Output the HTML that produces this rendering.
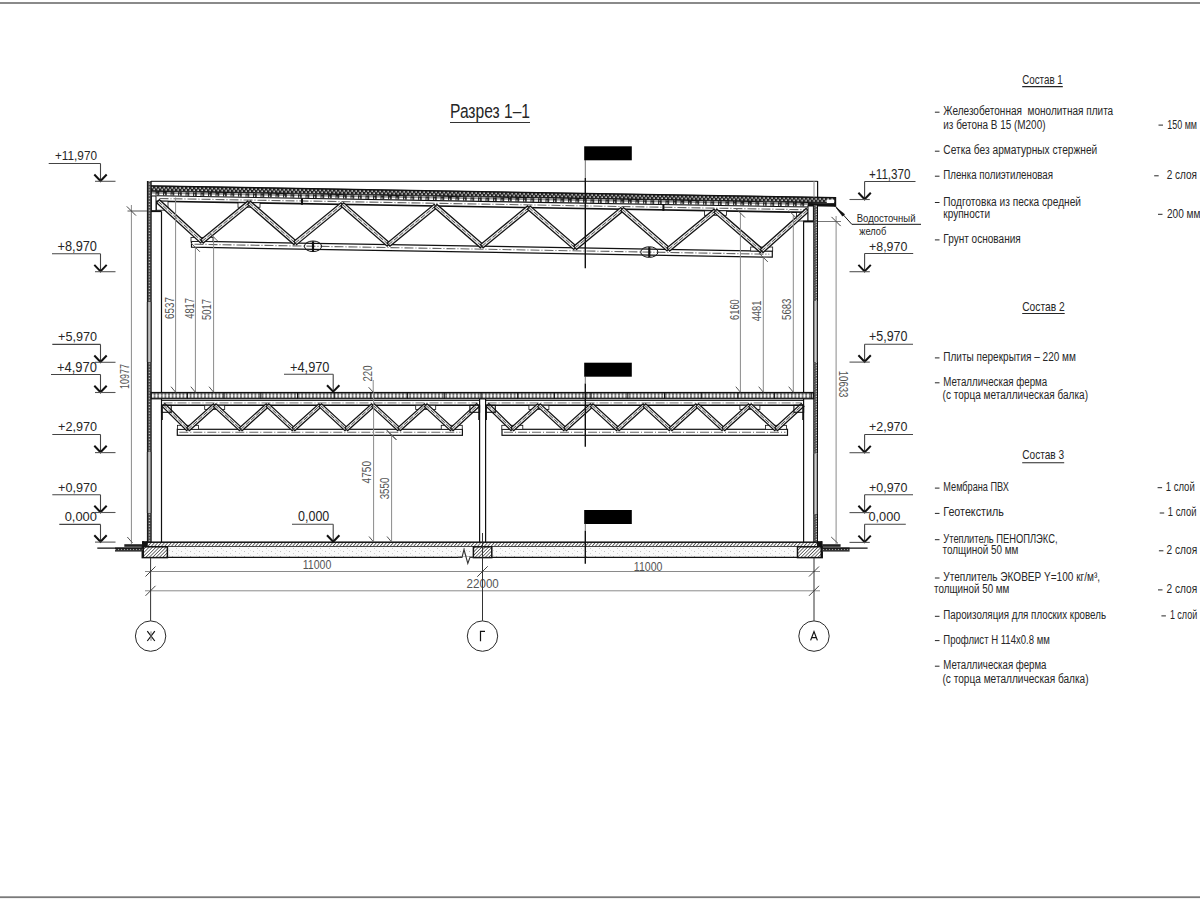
<!DOCTYPE html>
<html><head><meta charset="utf-8"><title>Разрез 1-1</title>
<style>
html,body{margin:0;padding:0;background:#fff;}
body{width:1200px;height:900px;overflow:hidden;}
svg{display:block;}
text{font-family:"Liberation Sans",sans-serif;}
</style></head><body>
<svg width="1200" height="900" viewBox="0 0 1200 900">

<defs>
<pattern id="roofins" width="4" height="5.6" patternUnits="userSpaceOnUse">
  <rect width="4" height="5.6" fill="#222"/><rect x="0.4" y="1.2" width="1.6" height="1.5" fill="#ddd"/><rect x="2.4" y="3.2" width="1.6" height="1.5" fill="#ddd"/>
</pattern>
<pattern id="dashband" width="7.5" height="3.6" patternUnits="userSpaceOnUse">
  <rect width="7.5" height="3.6" fill="#111"/><rect x="0.8" y="0.4" width="4" height="2.8" fill="#fff"/><rect x="5.7" y="0.6" width="1.1" height="2.2" fill="#eee"/>
</pattern>
<pattern id="wallL" width="4.8" height="2.9" patternUnits="userSpaceOnUse" x="146.9" y="0">
  <rect width="4.8" height="2.9" fill="#474747"/><rect width="1" height="2.9" fill="#111"/><rect x="3.8" width="1" height="2.9" fill="#111"/><rect x="1.9" y="0.8" width="1.1" height="1.1" fill="#eee"/>
</pattern>
<pattern id="wallR" width="4.8" height="2.6" patternUnits="userSpaceOnUse" x="813.2" y="0">
  <rect width="4.8" height="2.6" fill="#4a4a4a"/><rect width="0.9" height="2.6" fill="#222"/><rect x="3.9" width="0.9" height="2.6" fill="#000"/><rect x="2.6" y="0.6" width="1.1" height="1.1" fill="#f0f0f0"/><rect x="1.2" y="1.6" width="1" height="0.9" fill="#888"/>
</pattern>
<pattern id="hollow" width="3.6" height="6.6" patternUnits="userSpaceOnUse" x="151" y="392.4">
  <rect width="3.6" height="6.6" fill="#555"/><ellipse cx="1.8" cy="3.3" rx="1.25" ry="2.1" fill="#f8f8f8"/>
</pattern>
<pattern id="hatch" width="2.5" height="4" patternUnits="userSpaceOnUse" patternTransform="rotate(42)">
  <rect width="2.5" height="4" fill="#fff"/><rect width="0.9" height="4" fill="#555"/>
</pattern>
<pattern id="hatch2" width="2.4" height="3" patternUnits="userSpaceOnUse" patternTransform="rotate(45)">
  <rect width="2.4" height="3" fill="#fff"/><rect width="0.8" height="3" fill="#555"/>
</pattern>
<pattern id="concrete" width="9" height="5" patternUnits="userSpaceOnUse">
  <rect width="9" height="5" fill="#fafafa"/><rect x="1" y="1" width="1" height="1" fill="#bbb"/><rect x="5" y="3" width="1" height="1" fill="#ccc"/><rect x="7" y="0" width="1" height="1" fill="#ddd"/>
</pattern>
<pattern id="blind" width="3" height="4.1" patternUnits="userSpaceOnUse" y="547.5">
  <rect width="3" height="4.1" fill="#333"/><rect x="1" y="1.5" width="1" height="1" fill="#aaa"/>
</pattern>
</defs>

<g id="draw" stroke-linecap="butt">
<g transform="translate(151,185.5) rotate(0.9854)">
<rect x="0" y="0" width="684.8" height="5.6" fill="url(#roofins)" stroke="none" stroke-width="1"/>
<line x1="0" y1="0.4" x2="684.8" y2="0.4" stroke="#111" stroke-width="1.2"/>
<rect x="0" y="5.2" width="684.8" height="1.2" fill="#111" stroke="none" stroke-width="1"/>
<rect x="0" y="6.2" width="657" height="3.6" fill="url(#dashband)" stroke="none" stroke-width="1"/>
<rect x="657" y="6.2" width="27.8" height="3.2" fill="#111" stroke="none" stroke-width="1"/>
</g>
<rect x="826.8" y="199.6" width="7.5" height="3.4" fill="#fff" stroke="none" stroke-width="1"/>
<line x1="835.3" y1="196.98" x2="835.3" y2="206.68" stroke="#111" stroke-width="1.8"/>
<line x1="151" y1="181.3" x2="817.6" y2="181.3" stroke="#111" stroke-width="1"/>
<line x1="817.6" y1="181" x2="817.6" y2="197.5" stroke="#111" stroke-width="1.2"/>
<line x1="814" y1="181" x2="814" y2="197.5" stroke="#8c8c8c" stroke-width="1"/>
<line x1="156.5" y1="195.79" x2="808.5" y2="207.01" stroke="#111" stroke-width="1.1"/>
<line x1="156.5" y1="201.19" x2="808.5" y2="212.41" stroke="#111" stroke-width="1.6"/>
<line x1="159.5" y1="198.49" x2="805.5" y2="209.71" stroke="#666" stroke-width="1.1" stroke-dasharray="9,2,1,2"/>
<polygon points="191.5,241.2 772.3,251.19 772.3,257.19 191.5,247.2" fill="#fff" stroke="#111" stroke-width="1.2"/>
<line x1="194.5" y1="244.2" x2="769.3" y2="254.19" stroke="#666" stroke-width="1.1" stroke-dasharray="9,2,1,2"/>
<rect x="238" y="202.79" width="22" height="4.5" fill="#fff" stroke="#111" stroke-width="0.8"/>
<rect x="704.4" y="210.81" width="22" height="4.5" fill="#fff" stroke="#111" stroke-width="0.8"/>
<rect x="191" y="237.38" width="22" height="4" fill="#fff" stroke="#111" stroke-width="0.8"/>
<rect x="750.68" y="247.01" width="22" height="4" fill="#fff" stroke="#111" stroke-width="0.8"/>
<rect x="156.5" y="201.19" width="11.5" height="9" fill="#fff" stroke="#111" stroke-width="0.8"/>
<rect x="796.4" y="212.4" width="11.6" height="8.6" fill="#fff" stroke="#111" stroke-width="0.8"/>
<polygon points="156.58,202.77 200.58,242.93 203.42,239.83 159.42,199.67" fill="#e8e8e8" stroke="#111" stroke-width="1.25"/>
<line x1="158" y1="201.22" x2="202" y2="241.38" stroke="#555" stroke-width="1" stroke-dasharray="5,2"/>
<polygon points="203.33,243 250.33,204.41 247.67,201.16 200.67,239.76" fill="#e8e8e8" stroke="#111" stroke-width="1.25"/>
<line x1="202" y1="241.38" x2="249" y2="202.79" stroke="#555" stroke-width="1" stroke-dasharray="5,2"/>
<polygon points="247.62,204.37 293.9,244.57 296.66,241.4 250.38,201.2" fill="#e8e8e8" stroke="#111" stroke-width="1.25"/>
<line x1="249" y1="202.79" x2="295.28" y2="242.99" stroke="#555" stroke-width="1" stroke-dasharray="5,2"/>
<polygon points="296.61,244.61 343.61,206.01 340.95,202.77 293.95,241.36" fill="#e8e8e8" stroke="#111" stroke-width="1.25"/>
<line x1="295.28" y1="242.99" x2="342.28" y2="204.39" stroke="#555" stroke-width="1" stroke-dasharray="5,2"/>
<polygon points="340.9,205.98 387.18,246.17 389.94,243 343.66,202.8" fill="#e8e8e8" stroke="#111" stroke-width="1.25"/>
<line x1="342.28" y1="204.39" x2="388.56" y2="244.59" stroke="#555" stroke-width="1" stroke-dasharray="5,2"/>
<polygon points="389.89,246.21 436.89,207.62 434.23,204.37 387.23,242.97" fill="#e8e8e8" stroke="#111" stroke-width="1.25"/>
<line x1="388.56" y1="244.59" x2="435.56" y2="205.99" stroke="#555" stroke-width="1" stroke-dasharray="5,2"/>
<polygon points="434.18,207.58 480.46,247.78 483.22,244.61 436.94,204.41" fill="#e8e8e8" stroke="#111" stroke-width="1.25"/>
<line x1="435.56" y1="205.99" x2="481.84" y2="246.19" stroke="#555" stroke-width="1" stroke-dasharray="5,2"/>
<polygon points="483.17,247.82 530.17,209.22 527.51,205.98 480.51,244.57" fill="#e8e8e8" stroke="#111" stroke-width="1.25"/>
<line x1="481.84" y1="246.19" x2="528.84" y2="207.6" stroke="#555" stroke-width="1" stroke-dasharray="5,2"/>
<polygon points="527.46,209.18 573.74,249.38 576.5,246.21 530.22,206.01" fill="#e8e8e8" stroke="#111" stroke-width="1.25"/>
<line x1="528.84" y1="207.6" x2="575.12" y2="247.8" stroke="#555" stroke-width="1" stroke-dasharray="5,2"/>
<polygon points="576.45,249.42 623.45,210.83 620.79,207.58 573.79,246.18" fill="#e8e8e8" stroke="#111" stroke-width="1.25"/>
<line x1="575.12" y1="247.8" x2="622.12" y2="209.2" stroke="#555" stroke-width="1" stroke-dasharray="5,2"/>
<polygon points="620.74,210.79 667.02,250.99 669.78,247.82 623.5,207.62" fill="#e8e8e8" stroke="#111" stroke-width="1.25"/>
<line x1="622.12" y1="209.2" x2="668.4" y2="249.4" stroke="#555" stroke-width="1" stroke-dasharray="5,2"/>
<polygon points="669.73,251.03 716.73,212.43 714.07,209.18 667.07,247.78" fill="#e8e8e8" stroke="#111" stroke-width="1.25"/>
<line x1="668.4" y1="249.4" x2="715.4" y2="210.81" stroke="#555" stroke-width="1" stroke-dasharray="5,2"/>
<polygon points="714.02,212.39 760.3,252.59 763.06,249.42 716.78,209.22" fill="#e8e8e8" stroke="#111" stroke-width="1.25"/>
<line x1="715.4" y1="210.81" x2="761.68" y2="251.01" stroke="#555" stroke-width="1" stroke-dasharray="5,2"/>
<polygon points="763.08,252.57 808.9,211.56 806.1,208.44 760.28,249.44" fill="#e8e8e8" stroke="#111" stroke-width="1.25"/>
<line x1="761.68" y1="251.01" x2="807.5" y2="210" stroke="#555" stroke-width="1" stroke-dasharray="5,2"/>
<ellipse cx="313" cy="246.29" rx="8.6" ry="5.3" fill="none" stroke="#111" stroke-width="1"/>
<line x1="313" y1="241.29" x2="313" y2="251.29" stroke="#111" stroke-width="2.2"/>
<ellipse cx="649.3" cy="252.07" rx="8.6" ry="5.3" fill="none" stroke="#111" stroke-width="1"/>
<line x1="649.3" y1="247.07" x2="649.3" y2="257.07" stroke="#111" stroke-width="2.2"/>
<line x1="302" y1="198.3" x2="302" y2="204.7" stroke="#111" stroke-width="2"/>
<line x1="663.4" y1="204.51" x2="663.4" y2="210.91" stroke="#111" stroke-width="2"/>
<rect x="151.3" y="196" width="4.7" height="15" fill="#fff" stroke="#111" stroke-width="1"/>
<rect x="151" y="210.3" width="10.6" height="1.8" fill="#111" stroke="none" stroke-width="1"/>
<rect x="808" y="206" width="5.4" height="15" fill="#fff" stroke="#111" stroke-width="1"/>
<rect x="803.1" y="220.6" width="10.5" height="1.8" fill="#111" stroke="none" stroke-width="1"/>
<rect x="146.9" y="181" width="4.8" height="365.8" fill="url(#wallL)" stroke="none" stroke-width="1"/>
<rect x="146.9" y="302" width="4.8" height="60" fill="#a0a0a0" stroke="none" stroke-width="1"/>
<line x1="149.3" y1="302" x2="149.3" y2="362" stroke="#d0d0d0" stroke-width="0.9"/>
<line x1="147.4" y1="302" x2="147.4" y2="362" stroke="#222" stroke-width="1"/>
<line x1="151.2" y1="302" x2="151.2" y2="362" stroke="#222" stroke-width="1"/>
<rect x="146.9" y="452" width="4.8" height="61" fill="#a0a0a0" stroke="none" stroke-width="1"/>
<line x1="149.3" y1="452" x2="149.3" y2="513" stroke="#d0d0d0" stroke-width="0.9"/>
<line x1="147.4" y1="452" x2="147.4" y2="513" stroke="#222" stroke-width="1"/>
<line x1="151.2" y1="452" x2="151.2" y2="513" stroke="#222" stroke-width="1"/>
<rect x="813.2" y="205" width="4.8" height="341.8" fill="url(#wallR)" stroke="none" stroke-width="1"/>
<rect x="813.2" y="301" width="4.8" height="61" fill="#a0a0a0" stroke="none" stroke-width="1"/>
<line x1="815.6" y1="301" x2="815.6" y2="362" stroke="#d0d0d0" stroke-width="0.9"/>
<line x1="813.7" y1="301" x2="813.7" y2="362" stroke="#222" stroke-width="1"/>
<line x1="817.5" y1="301" x2="817.5" y2="362" stroke="#222" stroke-width="1"/>
<rect x="813.2" y="453.6" width="4.8" height="60.4" fill="#a0a0a0" stroke="none" stroke-width="1"/>
<line x1="815.6" y1="453.6" x2="815.6" y2="514" stroke="#d0d0d0" stroke-width="0.9"/>
<line x1="813.7" y1="453.6" x2="813.7" y2="514" stroke="#222" stroke-width="1"/>
<line x1="817.5" y1="453.6" x2="817.5" y2="514" stroke="#222" stroke-width="1"/>
<line x1="161.5" y1="211.5" x2="161.5" y2="542" stroke="#111" stroke-width="1.2"/>
<line x1="803.6" y1="221.8" x2="803.6" y2="542" stroke="#111" stroke-width="1.2"/>
<line x1="479.6" y1="399" x2="479.6" y2="542" stroke="#111" stroke-width="1.2"/>
<line x1="485.6" y1="399" x2="485.6" y2="542" stroke="#111" stroke-width="1.2"/>
<rect x="151.2" y="392.5" width="662.4" height="6.3" fill="url(#hollow)" stroke="#111" stroke-width="1.2"/>
<line x1="187.4" y1="392.4" x2="187.4" y2="399" stroke="#111" stroke-width="1"/>
<line x1="224.1" y1="392.4" x2="224.1" y2="399" stroke="#111" stroke-width="1"/>
<line x1="260.8" y1="392.4" x2="260.8" y2="399" stroke="#111" stroke-width="1"/>
<line x1="297.5" y1="392.4" x2="297.5" y2="399" stroke="#111" stroke-width="1"/>
<line x1="334.2" y1="392.4" x2="334.2" y2="399" stroke="#111" stroke-width="1"/>
<line x1="370.9" y1="392.4" x2="370.9" y2="399" stroke="#111" stroke-width="1"/>
<line x1="407.6" y1="392.4" x2="407.6" y2="399" stroke="#111" stroke-width="1"/>
<line x1="444.3" y1="392.4" x2="444.3" y2="399" stroke="#111" stroke-width="1"/>
<line x1="481" y1="392.4" x2="481" y2="399" stroke="#111" stroke-width="1"/>
<line x1="517.7" y1="392.4" x2="517.7" y2="399" stroke="#111" stroke-width="1"/>
<line x1="554.4" y1="392.4" x2="554.4" y2="399" stroke="#111" stroke-width="1"/>
<line x1="591.1" y1="392.4" x2="591.1" y2="399" stroke="#111" stroke-width="1"/>
<line x1="627.8" y1="392.4" x2="627.8" y2="399" stroke="#111" stroke-width="1"/>
<line x1="664.5" y1="392.4" x2="664.5" y2="399" stroke="#111" stroke-width="1"/>
<line x1="701.2" y1="392.4" x2="701.2" y2="399" stroke="#111" stroke-width="1"/>
<line x1="737.9" y1="392.4" x2="737.9" y2="399" stroke="#111" stroke-width="1"/>
<line x1="774.6" y1="392.4" x2="774.6" y2="399" stroke="#111" stroke-width="1"/>
<line x1="811.3" y1="392.4" x2="811.3" y2="399" stroke="#111" stroke-width="1"/>
<line x1="161.5" y1="400.5" x2="479.6" y2="400.5" stroke="#111" stroke-width="0.9"/>
<line x1="161.5" y1="405.3" x2="479.6" y2="405.3" stroke="#111" stroke-width="1.4"/>
<line x1="163.5" y1="402.9" x2="477.6" y2="402.9" stroke="#777" stroke-width="1" stroke-dasharray="9,2,1,2"/>
<rect x="177.3" y="429.3" width="285.1" height="6" fill="#fff" stroke="#111" stroke-width="1.2"/>
<line x1="179.3" y1="432.3" x2="460.4" y2="432.3" stroke="#666" stroke-width="1.1" stroke-dasharray="9,2,1,2"/>
<rect x="204.7" y="405.3" width="20" height="4.2" fill="#fff" stroke="#111" stroke-width="0.8"/>
<rect x="415.7" y="405.3" width="20" height="4.2" fill="#fff" stroke="#111" stroke-width="0.8"/>
<rect x="177.5" y="425.3" width="21" height="4" fill="#fff" stroke="#111" stroke-width="0.8"/>
<rect x="441.25" y="425.3" width="21" height="4" fill="#fff" stroke="#111" stroke-width="0.8"/>
<polygon points="162.16,406.35 186.66,430.65 189.34,427.95 164.84,403.65" fill="#e8e8e8" stroke="#111" stroke-width="1.25"/>
<line x1="163.5" y1="405" x2="188" y2="429.3" stroke="#555" stroke-width="1" stroke-dasharray="5,2"/>
<polygon points="189.27,430.71 215.97,406.61 213.43,403.79 186.73,427.89" fill="#e8e8e8" stroke="#111" stroke-width="1.25"/>
<line x1="188" y1="429.3" x2="214.7" y2="405.2" stroke="#555" stroke-width="1" stroke-dasharray="5,2"/>
<polygon points="213.41,406.59 239.46,430.69 242.04,427.91 215.99,403.81" fill="#e8e8e8" stroke="#111" stroke-width="1.25"/>
<line x1="214.7" y1="405.2" x2="240.75" y2="429.3" stroke="#555" stroke-width="1" stroke-dasharray="5,2"/>
<polygon points="242.02,430.71 268.72,406.61 266.18,403.79 239.48,427.89" fill="#e8e8e8" stroke="#111" stroke-width="1.25"/>
<line x1="240.75" y1="429.3" x2="267.45" y2="405.2" stroke="#555" stroke-width="1" stroke-dasharray="5,2"/>
<polygon points="266.16,406.59 292.21,430.69 294.79,427.91 268.74,403.81" fill="#e8e8e8" stroke="#111" stroke-width="1.25"/>
<line x1="267.45" y1="405.2" x2="293.5" y2="429.3" stroke="#555" stroke-width="1" stroke-dasharray="5,2"/>
<polygon points="294.77,430.71 321.47,406.61 318.93,403.79 292.23,427.89" fill="#e8e8e8" stroke="#111" stroke-width="1.25"/>
<line x1="293.5" y1="429.3" x2="320.2" y2="405.2" stroke="#555" stroke-width="1" stroke-dasharray="5,2"/>
<polygon points="318.91,406.59 344.96,430.69 347.54,427.91 321.49,403.81" fill="#e8e8e8" stroke="#111" stroke-width="1.25"/>
<line x1="320.2" y1="405.2" x2="346.25" y2="429.3" stroke="#555" stroke-width="1" stroke-dasharray="5,2"/>
<polygon points="347.52,430.71 374.22,406.61 371.68,403.79 344.98,427.89" fill="#e8e8e8" stroke="#111" stroke-width="1.25"/>
<line x1="346.25" y1="429.3" x2="372.95" y2="405.2" stroke="#555" stroke-width="1" stroke-dasharray="5,2"/>
<polygon points="371.66,406.59 397.71,430.69 400.29,427.91 374.24,403.81" fill="#e8e8e8" stroke="#111" stroke-width="1.25"/>
<line x1="372.95" y1="405.2" x2="399" y2="429.3" stroke="#555" stroke-width="1" stroke-dasharray="5,2"/>
<polygon points="400.27,430.71 426.97,406.61 424.43,403.79 397.73,427.89" fill="#e8e8e8" stroke="#111" stroke-width="1.25"/>
<line x1="399" y1="429.3" x2="425.7" y2="405.2" stroke="#555" stroke-width="1" stroke-dasharray="5,2"/>
<polygon points="424.41,406.59 450.46,430.69 453.04,427.91 426.99,403.81" fill="#e8e8e8" stroke="#111" stroke-width="1.25"/>
<line x1="425.7" y1="405.2" x2="451.75" y2="429.3" stroke="#555" stroke-width="1" stroke-dasharray="5,2"/>
<polygon points="453.04,430.69 479.29,406.39 476.71,403.61 450.46,427.91" fill="#e8e8e8" stroke="#111" stroke-width="1.25"/>
<line x1="451.75" y1="429.3" x2="478" y2="405" stroke="#555" stroke-width="1" stroke-dasharray="5,2"/>
<line x1="485.6" y1="400.5" x2="803.6" y2="400.5" stroke="#111" stroke-width="0.9"/>
<line x1="485.6" y1="405.3" x2="803.6" y2="405.3" stroke="#111" stroke-width="1.4"/>
<line x1="487.6" y1="402.9" x2="801.6" y2="402.9" stroke="#777" stroke-width="1" stroke-dasharray="9,2,1,2"/>
<rect x="502" y="429.3" width="285.5" height="6" fill="#fff" stroke="#111" stroke-width="1.2"/>
<line x1="504" y1="432.3" x2="785.5" y2="432.3" stroke="#666" stroke-width="1.1" stroke-dasharray="9,2,1,2"/>
<rect x="528.9" y="405.3" width="20" height="4.2" fill="#fff" stroke="#111" stroke-width="0.8"/>
<rect x="739.9" y="405.3" width="20" height="4.2" fill="#fff" stroke="#111" stroke-width="0.8"/>
<rect x="501.8" y="425.3" width="21" height="4" fill="#fff" stroke="#111" stroke-width="0.8"/>
<rect x="765.55" y="425.3" width="21" height="4" fill="#fff" stroke="#111" stroke-width="0.8"/>
<polygon points="486.17,406.36 510.97,430.66 513.63,427.94 488.83,403.64" fill="#e8e8e8" stroke="#111" stroke-width="1.25"/>
<line x1="487.5" y1="405" x2="512.3" y2="429.3" stroke="#555" stroke-width="1" stroke-dasharray="5,2"/>
<polygon points="513.58,430.71 540.18,406.61 537.62,403.79 511.02,427.89" fill="#e8e8e8" stroke="#111" stroke-width="1.25"/>
<line x1="512.3" y1="429.3" x2="538.9" y2="405.2" stroke="#555" stroke-width="1" stroke-dasharray="5,2"/>
<polygon points="537.61,406.6 563.76,430.7 566.34,427.9 540.19,403.8" fill="#e8e8e8" stroke="#111" stroke-width="1.25"/>
<line x1="538.9" y1="405.2" x2="565.05" y2="429.3" stroke="#555" stroke-width="1" stroke-dasharray="5,2"/>
<polygon points="566.33,430.71 592.93,406.61 590.37,403.79 563.77,427.89" fill="#e8e8e8" stroke="#111" stroke-width="1.25"/>
<line x1="565.05" y1="429.3" x2="591.65" y2="405.2" stroke="#555" stroke-width="1" stroke-dasharray="5,2"/>
<polygon points="590.36,406.6 616.51,430.7 619.09,427.9 592.94,403.8" fill="#e8e8e8" stroke="#111" stroke-width="1.25"/>
<line x1="591.65" y1="405.2" x2="617.8" y2="429.3" stroke="#555" stroke-width="1" stroke-dasharray="5,2"/>
<polygon points="619.08,430.71 645.68,406.61 643.12,403.79 616.52,427.89" fill="#e8e8e8" stroke="#111" stroke-width="1.25"/>
<line x1="617.8" y1="429.3" x2="644.4" y2="405.2" stroke="#555" stroke-width="1" stroke-dasharray="5,2"/>
<polygon points="643.11,406.6 669.26,430.7 671.84,427.9 645.69,403.8" fill="#e8e8e8" stroke="#111" stroke-width="1.25"/>
<line x1="644.4" y1="405.2" x2="670.55" y2="429.3" stroke="#555" stroke-width="1" stroke-dasharray="5,2"/>
<polygon points="671.83,430.71 698.43,406.61 695.87,403.79 669.27,427.89" fill="#e8e8e8" stroke="#111" stroke-width="1.25"/>
<line x1="670.55" y1="429.3" x2="697.15" y2="405.2" stroke="#555" stroke-width="1" stroke-dasharray="5,2"/>
<polygon points="695.86,406.6 722.01,430.7 724.59,427.9 698.44,403.8" fill="#e8e8e8" stroke="#111" stroke-width="1.25"/>
<line x1="697.15" y1="405.2" x2="723.3" y2="429.3" stroke="#555" stroke-width="1" stroke-dasharray="5,2"/>
<polygon points="724.58,430.71 751.18,406.61 748.62,403.79 722.02,427.89" fill="#e8e8e8" stroke="#111" stroke-width="1.25"/>
<line x1="723.3" y1="429.3" x2="749.9" y2="405.2" stroke="#555" stroke-width="1" stroke-dasharray="5,2"/>
<polygon points="748.61,406.6 774.76,430.7 777.34,427.9 751.19,403.8" fill="#e8e8e8" stroke="#111" stroke-width="1.25"/>
<line x1="749.9" y1="405.2" x2="776.05" y2="429.3" stroke="#555" stroke-width="1" stroke-dasharray="5,2"/>
<polygon points="777.34,430.7 803.79,406.4 801.21,403.6 774.76,427.9" fill="#e8e8e8" stroke="#111" stroke-width="1.25"/>
<line x1="776.05" y1="429.3" x2="802.5" y2="405" stroke="#555" stroke-width="1" stroke-dasharray="5,2"/>
<rect x="161.5" y="405.3" width="9.7" height="7" fill="none" stroke="#111" stroke-width="1.1"/>
<line x1="162.1" y1="405.5" x2="162.1" y2="420" stroke="#111" stroke-width="1.5"/>
<rect x="469.9" y="405.3" width="9.7" height="7" fill="none" stroke="#111" stroke-width="1.1"/>
<line x1="479" y1="405.5" x2="479" y2="420" stroke="#111" stroke-width="1.5"/>
<rect x="485.6" y="405.3" width="9.7" height="7" fill="none" stroke="#111" stroke-width="1.1"/>
<line x1="486.2" y1="405.5" x2="486.2" y2="420" stroke="#111" stroke-width="1.5"/>
<rect x="793.9" y="405.3" width="9.7" height="7" fill="none" stroke="#111" stroke-width="1.1"/>
<line x1="803" y1="405.5" x2="803" y2="420" stroke="#111" stroke-width="1.5"/>
<rect x="147" y="542.2" width="670.8" height="4.6" fill="url(#hatch)" stroke="#111" stroke-width="1.5"/>
<rect x="167.4" y="546.8" width="630.1" height="10.8" fill="url(#concrete)" stroke="none" stroke-width="1"/>
<line x1="167.4" y1="557.4" x2="797.5" y2="557.4" stroke="#111" stroke-width="1.1"/>
<rect x="142.3" y="546.8" width="25.1" height="10.8" fill="url(#hatch2)" stroke="#111" stroke-width="1.5"/>
<rect x="473.4" y="546.8" width="18.4" height="10.8" fill="url(#hatch2)" stroke="#111" stroke-width="1.5"/>
<rect x="797.5" y="546.8" width="24.7" height="10.8" fill="url(#hatch2)" stroke="#111" stroke-width="1.5"/>
<rect x="142.3" y="541.2" width="4.8" height="5.6" fill="#111" stroke="none" stroke-width="1"/>
<rect x="817.6" y="541.2" width="4.6" height="5.6" fill="#111" stroke="none" stroke-width="1"/>
<line x1="143" y1="541.2" x2="143" y2="557.6" stroke="#111" stroke-width="2"/>
<line x1="821.5" y1="541.2" x2="821.5" y2="557.6" stroke="#111" stroke-width="2"/>
<rect x="124.3" y="544.2" width="18" height="2.6" fill="#222" stroke="none" stroke-width="1"/>
<rect x="115" y="547.5" width="27.3" height="4.1" fill="url(#blind)" stroke="none" stroke-width="1"/>
<line x1="97.3" y1="548.2" x2="142.3" y2="548.2" stroke="#111" stroke-width="1.2"/>
<rect x="822.2" y="544.2" width="18.4" height="2.6" fill="#222" stroke="none" stroke-width="1"/>
<rect x="822.2" y="547.5" width="27.4" height="4.1" fill="url(#blind)" stroke="none" stroke-width="1"/>
<line x1="822.2" y1="548.2" x2="867.6" y2="548.2" stroke="#111" stroke-width="1.2"/>
<rect x="461" y="557" width="10" height="1.2" fill="#fff" stroke="none" stroke-width="1"/>
<polyline points="458,557.4 462,557.4 464,549.5 467.8,563.5 470,557.4 473.4,557.4" fill="none" stroke="#333" stroke-width="1.1"/>
</g>
<g id="dims">
<line x1="131.4" y1="205" x2="131.4" y2="544" stroke="#8a8a8a" stroke-width="1"/>
<line x1="127.5" y1="211" x2="147" y2="211" stroke="#555" stroke-width="1"/>
<line x1="126.8" y1="206.4" x2="136" y2="215.6" stroke="#444" stroke-width="1"/>
<line x1="127.3" y1="537" x2="132.6" y2="543" stroke="#555" stroke-width="1"/>
<text transform="translate(124.6,376.6) rotate(-90)" x="-12.5" y="4.4" font-size="12.29" fill="#555" textLength="25" lengthAdjust="spacingAndGlyphs">10977</text>
<line x1="836.1" y1="216" x2="836.1" y2="544" stroke="#8a8a8a" stroke-width="1"/>
<line x1="818" y1="221.5" x2="841" y2="221.5" stroke="#777" stroke-width="1"/>
<line x1="831.5" y1="216.9" x2="840.7" y2="226.1" stroke="#444" stroke-width="1"/>
<line x1="831.2" y1="537" x2="838" y2="543.4" stroke="#555" stroke-width="1"/>
<text transform="translate(843.4,384.1) rotate(90)" x="-13.35" y="4.65" font-size="12.99" fill="#555" textLength="26.7" lengthAdjust="spacingAndGlyphs">10633</text>
<line x1="175.6" y1="197.5" x2="175.6" y2="392.2" stroke="#8a8a8a" stroke-width="1"/>
<line x1="171" y1="386.7" x2="175.6" y2="392.2" stroke="#555" stroke-width="1"/>
<text transform="translate(169.3,308) rotate(-90)" x="-10.9" y="4.5" font-size="12.57" fill="#555" textLength="21.8" lengthAdjust="spacingAndGlyphs">6537</text>
<line x1="195.4" y1="247.3" x2="195.4" y2="392.2" stroke="#8a8a8a" stroke-width="1"/>
<line x1="190.8" y1="386.7" x2="195.4" y2="392.2" stroke="#555" stroke-width="1"/>
<line x1="190.9" y1="242.8" x2="199.9" y2="251.8" stroke="#555" stroke-width="1"/>
<text transform="translate(189.8,308.4) rotate(-90)" x="-10.4" y="4.5" font-size="12.57" fill="#555" textLength="20.8" lengthAdjust="spacingAndGlyphs">4817</text>
<line x1="213.6" y1="237" x2="213.6" y2="392.2" stroke="#8a8a8a" stroke-width="1"/>
<line x1="209" y1="386.7" x2="213.6" y2="392.2" stroke="#555" stroke-width="1"/>
<line x1="209.1" y1="232.5" x2="218.1" y2="241.5" stroke="#555" stroke-width="1"/>
<text transform="translate(206.8,309.5) rotate(-90)" x="-10.5" y="4.5" font-size="12.57" fill="#555" textLength="21" lengthAdjust="spacingAndGlyphs">5017</text>
<line x1="740.4" y1="213" x2="740.4" y2="392.2" stroke="#8a8a8a" stroke-width="1"/>
<line x1="735.8" y1="386.7" x2="740.4" y2="392.2" stroke="#555" stroke-width="1"/>
<line x1="735.9" y1="208.5" x2="744.9" y2="217.5" stroke="#555" stroke-width="1"/>
<text transform="translate(734,309.6) rotate(-90)" x="-10.35" y="4.5" font-size="12.57" fill="#555" textLength="20.7" lengthAdjust="spacingAndGlyphs">6160</text>
<line x1="763.3" y1="257.4" x2="763.3" y2="392.2" stroke="#8a8a8a" stroke-width="1"/>
<line x1="758.7" y1="386.7" x2="763.3" y2="392.2" stroke="#555" stroke-width="1"/>
<line x1="758.8" y1="252.9" x2="767.8" y2="261.9" stroke="#555" stroke-width="1"/>
<text transform="translate(756.8,311) rotate(-90)" x="-10.3" y="4.5" font-size="12.57" fill="#555" textLength="20.6" lengthAdjust="spacingAndGlyphs">4481</text>
<line x1="793.3" y1="215" x2="793.3" y2="392.2" stroke="#8a8a8a" stroke-width="1"/>
<line x1="788.7" y1="386.7" x2="793.3" y2="392.2" stroke="#555" stroke-width="1"/>
<line x1="788.8" y1="210.5" x2="797.8" y2="219.5" stroke="#555" stroke-width="1"/>
<text transform="translate(786.2,309.3) rotate(-90)" x="-10.65" y="4.5" font-size="12.57" fill="#555" textLength="21.3" lengthAdjust="spacingAndGlyphs">5683</text>
<text transform="translate(367,373.5) rotate(-90)" x="-8" y="4.5" font-size="12.57" fill="#555" textLength="16" lengthAdjust="spacingAndGlyphs">220</text>
<line x1="373.2" y1="380" x2="373.2" y2="392.2" stroke="#8a8a8a" stroke-width="1"/>
<line x1="368.6" y1="387.2" x2="373.2" y2="392.2" stroke="#555" stroke-width="1"/>
<line x1="373.6" y1="392.4" x2="373.6" y2="542" stroke="#8a8a8a" stroke-width="1"/>
<line x1="369" y1="536.5" x2="373.6" y2="542" stroke="#555" stroke-width="1"/>
<text transform="translate(366.8,472.2) rotate(-90)" x="-11.2" y="4.5" font-size="12.57" fill="#555" textLength="22.4" lengthAdjust="spacingAndGlyphs">4750</text>
<line x1="391.6" y1="435.3" x2="391.6" y2="542" stroke="#8a8a8a" stroke-width="1"/>
<line x1="387" y1="536.5" x2="391.6" y2="542" stroke="#555" stroke-width="1"/>
<line x1="387.1" y1="430.8" x2="396.1" y2="439.8" stroke="#555" stroke-width="1"/>
<text transform="translate(384,488.5) rotate(-90)" x="-10.8" y="4.5" font-size="12.57" fill="#555" textLength="21.6" lengthAdjust="spacingAndGlyphs">3550</text>
<line x1="386.5" y1="429.8" x2="396.5" y2="439.8" stroke="#555" stroke-width="1"/>
<line x1="145" y1="571.5" x2="820" y2="571.5" stroke="#8a8a8a" stroke-width="1"/>
<line x1="145" y1="590.8" x2="820" y2="590.8" stroke="#8a8a8a" stroke-width="1"/>
<line x1="145.5" y1="576.5" x2="155.5" y2="566.5" stroke="#444" stroke-width="1"/>
<line x1="477.5" y1="576.5" x2="487.5" y2="566.5" stroke="#444" stroke-width="1"/>
<line x1="809" y1="576.5" x2="819" y2="566.5" stroke="#444" stroke-width="1"/>
<line x1="145.5" y1="595.8" x2="155.5" y2="585.8" stroke="#444" stroke-width="1"/>
<line x1="809" y1="595.8" x2="819" y2="585.8" stroke="#444" stroke-width="1"/>
<line x1="477.5" y1="576.5" x2="487.5" y2="566.5" stroke="#444" stroke-width="1"/>
<text x="302.7" y="569" font-size="13.55" fill="#555" textLength="28.6" lengthAdjust="spacingAndGlyphs">11000</text>
<text x="633.8" y="570.5" font-size="12.99" fill="#555" textLength="28.7" lengthAdjust="spacingAndGlyphs">11000</text>
<text x="466.6" y="588" font-size="13.55" fill="#555" textLength="32.2" lengthAdjust="spacingAndGlyphs">22000</text>
<line x1="150.6" y1="557.6" x2="150.6" y2="620.8" stroke="#333" stroke-width="1"/>
<circle cx="150.6" cy="636.1" r="15.2" fill="none" stroke="#2a2a2a" stroke-width="1"/>
<line x1="482.5" y1="557.6" x2="482.5" y2="620.8" stroke="#333" stroke-width="1"/>
<circle cx="482.5" cy="636.1" r="15.2" fill="none" stroke="#2a2a2a" stroke-width="1"/>
<line x1="814" y1="557.6" x2="814" y2="620.8" stroke="#333" stroke-width="1"/>
<circle cx="814" cy="636.1" r="15.2" fill="none" stroke="#2a2a2a" stroke-width="1"/>
<path d="M147.3,631.2 L154.8,641 M154.8,631.2 L147.3,641" stroke="#111" stroke-width="1.2" fill="none"/>
<line x1="151" y1="631.4" x2="151" y2="640.8" stroke="#777" stroke-width="1"/>
<path d="M480.5,641.2 L480.5,631.4 L485,631.4" stroke="#111" stroke-width="1.2" fill="none"/>
<path d="M810.6,640.4 L814,631.6 L817.4,640.4 M811.9,637.6 L816.1,637.6" stroke="#111" stroke-width="1.2" fill="none"/>
<line x1="482.5" y1="533" x2="482.5" y2="557.6" stroke="#333" stroke-width="1"/>
<rect x="584.2" y="146.3" width="47.6" height="14" fill="#000" stroke="none" stroke-width="1"/>
<line x1="585.3" y1="160" x2="585.3" y2="178" stroke="#333" stroke-width="0.7"/>
<line x1="585.3" y1="178" x2="585.3" y2="268.3" stroke="#111" stroke-width="1.4"/>
<rect x="584.2" y="362.7" width="47.6" height="14" fill="#000" stroke="none" stroke-width="1"/>
<line x1="585.3" y1="376" x2="585.3" y2="383.5" stroke="#333" stroke-width="0.7"/>
<line x1="585.3" y1="383.5" x2="585.3" y2="446.7" stroke="#111" stroke-width="1.4"/>
<rect x="584.2" y="510" width="47.6" height="14" fill="#000" stroke="none" stroke-width="1"/>
<line x1="585.3" y1="523.3" x2="585.3" y2="530.8" stroke="#333" stroke-width="0.7"/>
<line x1="585.3" y1="530.8" x2="585.3" y2="563.8" stroke="#111" stroke-width="1.4"/>
<text x="290" y="371.5" font-size="13.97" fill="#262626" textLength="39.5" lengthAdjust="spacingAndGlyphs">+4,970</text>
<line x1="284" y1="374.3" x2="333.2" y2="374.3" stroke="#444" stroke-width="1.1"/>
<line x1="333.2" y1="374.3" x2="333.2" y2="391.6" stroke="#444" stroke-width="1.1"/>
<polyline points="327,385.2 333.2,391.6 339.4,385.2" fill="none" stroke="#111" stroke-width="2"/>
<text x="298" y="521" font-size="13.97" fill="#262626" textLength="31.3" lengthAdjust="spacingAndGlyphs">0,000</text>
<line x1="292" y1="524.2" x2="333.2" y2="524.2" stroke="#444" stroke-width="1.1"/>
<line x1="333.2" y1="524.2" x2="333.2" y2="541.8" stroke="#444" stroke-width="1.1"/>
<polyline points="327,535.2 333.2,541.8 339.4,535.2" fill="none" stroke="#111" stroke-width="2"/>
<polyline points="835.8,206.5 851.8,224.3 921,224.3" fill="none" stroke="#111" stroke-width="1"/>
<polygon points="836,207.5 844.6,214.2 842.6,216.2" fill="#111" stroke="#111" stroke-width="0.6"/>
<text x="856.7" y="221.8" font-size="10.3" fill="#262626" textLength="58.8" lengthAdjust="spacingAndGlyphs">Водосточный</text>
<text x="859.2" y="235.2" font-size="10.3" fill="#262626" textLength="27.1" lengthAdjust="spacingAndGlyphs">желоб</text>
</g>
<g id="marks">
<rect x="0" y="2" width="1200" height="2" fill="#8a8a8a" stroke="none" stroke-width="1"/>
<rect x="0" y="896.3" width="1200" height="1.8" fill="#7a7a7a" stroke="none" stroke-width="1"/>
<text x="450" y="118" font-size="20.5" fill="#262626" textLength="80" lengthAdjust="spacingAndGlyphs">Разрез 1–1</text>
<line x1="450" y1="122.5" x2="530" y2="122.5" stroke="#333" stroke-width="1"/>
<text x="55" y="160.3" font-size="13.27" fill="#262626" textLength="42" lengthAdjust="spacingAndGlyphs">+11,970</text>
<line x1="48.7" y1="163.5" x2="100.5" y2="163.5" stroke="#444" stroke-width="1.1"/>
<line x1="100.5" y1="163.5" x2="100.5" y2="181" stroke="#444" stroke-width="1.1"/>
<polyline points="94.3,174.5 100.5,181 106.7,174.5" fill="none" stroke="#111" stroke-width="2"/>
<line x1="95" y1="181.3" x2="115.5" y2="181.3" stroke="#555" stroke-width="1.1"/>
<text x="57.5" y="250.8" font-size="13.97" fill="#262626" textLength="39.5" lengthAdjust="spacingAndGlyphs">+8,970</text>
<line x1="52" y1="253.8" x2="100.5" y2="253.8" stroke="#444" stroke-width="1.1"/>
<line x1="100.5" y1="253.8" x2="100.5" y2="271.4" stroke="#444" stroke-width="1.1"/>
<polyline points="94.3,264.9 100.5,271.4 106.7,264.9" fill="none" stroke="#111" stroke-width="2"/>
<line x1="95" y1="271.7" x2="115.5" y2="271.7" stroke="#555" stroke-width="1.1"/>
<text x="58" y="341" font-size="13.55" fill="#262626" textLength="39" lengthAdjust="spacingAndGlyphs">+5,970</text>
<line x1="52.3" y1="344.4" x2="100.5" y2="344.4" stroke="#444" stroke-width="1.1"/>
<line x1="100.5" y1="344.4" x2="100.5" y2="362" stroke="#444" stroke-width="1.1"/>
<polyline points="94.3,355.5 100.5,362 106.7,355.5" fill="none" stroke="#111" stroke-width="2"/>
<line x1="95" y1="362.3" x2="115.5" y2="362.3" stroke="#555" stroke-width="1.1"/>
<text x="57" y="371.5" font-size="13.97" fill="#262626" textLength="40" lengthAdjust="spacingAndGlyphs">+4,970</text>
<line x1="51" y1="374.5" x2="100.5" y2="374.5" stroke="#444" stroke-width="1.1"/>
<line x1="100.5" y1="374.5" x2="100.5" y2="392.2" stroke="#444" stroke-width="1.1"/>
<polyline points="94.3,385.7 100.5,392.2 106.7,385.7" fill="none" stroke="#111" stroke-width="2"/>
<line x1="95" y1="392.5" x2="115.5" y2="392.5" stroke="#555" stroke-width="1.1"/>
<text x="58" y="431.2" font-size="13.55" fill="#262626" textLength="39" lengthAdjust="spacingAndGlyphs">+2,970</text>
<line x1="52.3" y1="434.5" x2="100.5" y2="434.5" stroke="#444" stroke-width="1.1"/>
<line x1="100.5" y1="434.5" x2="100.5" y2="452.3" stroke="#444" stroke-width="1.1"/>
<polyline points="94.3,445.8 100.5,452.3 106.7,445.8" fill="none" stroke="#111" stroke-width="2"/>
<line x1="95" y1="452.6" x2="115.5" y2="452.6" stroke="#555" stroke-width="1.1"/>
<text x="58" y="492" font-size="13.69" fill="#262626" textLength="39" lengthAdjust="spacingAndGlyphs">+0,970</text>
<line x1="52.3" y1="494.8" x2="100.5" y2="494.8" stroke="#444" stroke-width="1.1"/>
<line x1="100.5" y1="494.8" x2="100.5" y2="512.2" stroke="#444" stroke-width="1.1"/>
<polyline points="94.3,505.7 100.5,512.2 106.7,505.7" fill="none" stroke="#111" stroke-width="2"/>
<line x1="95" y1="512.5" x2="115.5" y2="512.5" stroke="#555" stroke-width="1.1"/>
<text x="64.7" y="521.3" font-size="13.69" fill="#262626" textLength="32.3" lengthAdjust="spacingAndGlyphs">0,000</text>
<line x1="59.3" y1="524.4" x2="100.5" y2="524.4" stroke="#444" stroke-width="1.1"/>
<line x1="100.5" y1="524.4" x2="100.5" y2="541.8" stroke="#444" stroke-width="1.1"/>
<polyline points="94.3,535.3 100.5,541.8 106.7,535.3" fill="none" stroke="#111" stroke-width="2"/>
<line x1="95" y1="542.1" x2="115.5" y2="542.1" stroke="#555" stroke-width="1.1"/>
<text x="869" y="178.8" font-size="14.11" fill="#262626" textLength="41.5" lengthAdjust="spacingAndGlyphs">+11,370</text>
<line x1="864.6" y1="181.5" x2="915.5" y2="181.5" stroke="#444" stroke-width="1.1"/>
<line x1="864.6" y1="181.5" x2="864.6" y2="199.2" stroke="#444" stroke-width="1.1"/>
<polyline points="858.4,192.7 864.6,199.2 870.8,192.7" fill="none" stroke="#111" stroke-width="2"/>
<line x1="849.5" y1="199.5" x2="869.8" y2="199.5" stroke="#555" stroke-width="1.1"/>
<text x="869" y="250.8" font-size="13.69" fill="#262626" textLength="38.3" lengthAdjust="spacingAndGlyphs">+8,970</text>
<line x1="864.6" y1="253.5" x2="913.2" y2="253.5" stroke="#444" stroke-width="1.1"/>
<line x1="864.6" y1="253.5" x2="864.6" y2="271.4" stroke="#444" stroke-width="1.1"/>
<polyline points="858.4,264.9 864.6,271.4 870.8,264.9" fill="none" stroke="#111" stroke-width="2"/>
<line x1="849.5" y1="271.7" x2="869.8" y2="271.7" stroke="#555" stroke-width="1.1"/>
<text x="869" y="341.2" font-size="13.83" fill="#262626" textLength="38.5" lengthAdjust="spacingAndGlyphs">+5,970</text>
<line x1="864.6" y1="344.3" x2="913" y2="344.3" stroke="#444" stroke-width="1.1"/>
<line x1="864.6" y1="344.3" x2="864.6" y2="361.8" stroke="#444" stroke-width="1.1"/>
<polyline points="858.4,355.3 864.6,361.8 870.8,355.3" fill="none" stroke="#111" stroke-width="2"/>
<line x1="849.5" y1="362.1" x2="869.8" y2="362.1" stroke="#555" stroke-width="1.1"/>
<text x="869" y="431.3" font-size="13.41" fill="#262626" textLength="38.5" lengthAdjust="spacingAndGlyphs">+2,970</text>
<line x1="864.6" y1="434.5" x2="913" y2="434.5" stroke="#444" stroke-width="1.1"/>
<line x1="864.6" y1="434.5" x2="864.6" y2="452.4" stroke="#444" stroke-width="1.1"/>
<polyline points="858.4,445.9 864.6,452.4 870.8,445.9" fill="none" stroke="#111" stroke-width="2"/>
<line x1="849.5" y1="452.7" x2="869.8" y2="452.7" stroke="#555" stroke-width="1.1"/>
<text x="869" y="492" font-size="13.69" fill="#262626" textLength="38.5" lengthAdjust="spacingAndGlyphs">+0,970</text>
<line x1="864.6" y1="494.8" x2="913" y2="494.8" stroke="#444" stroke-width="1.1"/>
<line x1="864.6" y1="494.8" x2="864.6" y2="512.3" stroke="#444" stroke-width="1.1"/>
<polyline points="858.4,505.8 864.6,512.3 870.8,505.8" fill="none" stroke="#111" stroke-width="2"/>
<line x1="849.5" y1="512.6" x2="869.8" y2="512.6" stroke="#555" stroke-width="1.1"/>
<text x="868.4" y="521.2" font-size="13.2" fill="#262626" textLength="32" lengthAdjust="spacingAndGlyphs">0,000</text>
<line x1="864.6" y1="524.2" x2="905.8" y2="524.2" stroke="#444" stroke-width="1.1"/>
<line x1="864.6" y1="524.2" x2="864.6" y2="542.1" stroke="#444" stroke-width="1.1"/>
<polyline points="858.4,535.6 864.6,542.1 870.8,535.6" fill="none" stroke="#111" stroke-width="2"/>
<line x1="849.5" y1="542.4" x2="869.8" y2="542.4" stroke="#555" stroke-width="1.1"/>
</g>
<g id="lists">
<text x="1022.2" y="83.5" font-size="13.3" fill="#262626" textLength="40.6" lengthAdjust="spacingAndGlyphs">Состав 1</text>
<line x1="1022.2" y1="86.6" x2="1062.8" y2="86.6" stroke="#262626" stroke-width="1.1"/>
<line x1="934.9" y1="112.2" x2="939.5" y2="112.2" stroke="#262626" stroke-width="1"/>
<text x="943.3" y="115.2" font-size="12.5" fill="#262626" textLength="169.9" lengthAdjust="spacingAndGlyphs">Железобетонная&#160;&#160;монолитная плита</text>
<text x="943.3" y="128.5" font-size="12.5" fill="#262626" textLength="102.2" lengthAdjust="spacingAndGlyphs">из бетона В 15 (М200)</text>
<line x1="1158.5" y1="125.1" x2="1163" y2="125.1" stroke="#262626" stroke-width="1"/>
<text x="1167.3" y="128.5" font-size="12.5" fill="#262626" textLength="29.7" lengthAdjust="spacingAndGlyphs">150 мм</text>
<line x1="934.9" y1="151.2" x2="939.5" y2="151.2" stroke="#262626" stroke-width="1"/>
<text x="943.3" y="154.2" font-size="12.5" fill="#262626" textLength="154" lengthAdjust="spacingAndGlyphs">Сетка без арматурных стержней</text>
<line x1="934.9" y1="176.2" x2="939.5" y2="176.2" stroke="#262626" stroke-width="1"/>
<text x="943.3" y="179.2" font-size="12.5" fill="#262626" textLength="109.7" lengthAdjust="spacingAndGlyphs">Пленка полиэтиленовая</text>
<line x1="1154.2" y1="175.8" x2="1158.7" y2="175.8" stroke="#262626" stroke-width="1"/>
<text x="1166.7" y="179.2" font-size="12.5" fill="#262626" textLength="30.3" lengthAdjust="spacingAndGlyphs">2 слоя</text>
<line x1="934.9" y1="202.5" x2="939.5" y2="202.5" stroke="#262626" stroke-width="1"/>
<text x="943.3" y="205.5" font-size="12.5" fill="#262626" textLength="137.7" lengthAdjust="spacingAndGlyphs">Подготовка из песка средней</text>
<text x="943.3" y="217.7" font-size="12.5" fill="#262626" textLength="46.7" lengthAdjust="spacingAndGlyphs">крупности</text>
<line x1="1158" y1="214.3" x2="1162.5" y2="214.3" stroke="#262626" stroke-width="1"/>
<text x="1167" y="217.7" font-size="12.5" fill="#262626" textLength="33.5" lengthAdjust="spacingAndGlyphs">200 мм</text>
<line x1="934.9" y1="239.9" x2="939.5" y2="239.9" stroke="#262626" stroke-width="1"/>
<text x="943.3" y="242.9" font-size="12.5" fill="#262626" textLength="77.5" lengthAdjust="spacingAndGlyphs">Грунт основания</text>
<text x="1022.2" y="310.5" font-size="13.3" fill="#262626" textLength="42.5" lengthAdjust="spacingAndGlyphs">Состав 2</text>
<line x1="1022.2" y1="313.5" x2="1064.7" y2="313.5" stroke="#262626" stroke-width="1.1"/>
<line x1="934.9" y1="357.9" x2="939.5" y2="357.9" stroke="#262626" stroke-width="1"/>
<text x="943.3" y="360.9" font-size="12.5" fill="#262626" textLength="132.6" lengthAdjust="spacingAndGlyphs">Плиты перекрытия – 220 мм</text>
<line x1="934.9" y1="382.8" x2="939.5" y2="382.8" stroke="#262626" stroke-width="1"/>
<text x="943.3" y="385.8" font-size="12.5" fill="#262626" textLength="103.9" lengthAdjust="spacingAndGlyphs">Металлическая ферма</text>
<text x="942.6" y="399.1" font-size="12.5" fill="#262626" textLength="145.4" lengthAdjust="spacingAndGlyphs">(с торца металлическая балка)</text>
<text x="1022.2" y="458.9" font-size="13.3" fill="#262626" textLength="42" lengthAdjust="spacingAndGlyphs">Состав 3</text>
<line x1="1022.2" y1="462.8" x2="1064.2" y2="462.8" stroke="#262626" stroke-width="1.1"/>
<line x1="934.9" y1="488.1" x2="939.5" y2="488.1" stroke="#262626" stroke-width="1"/>
<text x="943.3" y="491.1" font-size="12.5" fill="#262626" textLength="65.6" lengthAdjust="spacingAndGlyphs">Мембрана ПВХ</text>
<line x1="1157.6" y1="487.7" x2="1162.1" y2="487.7" stroke="#262626" stroke-width="1"/>
<text x="1165.8" y="491.1" font-size="12.5" fill="#262626" textLength="28.9" lengthAdjust="spacingAndGlyphs">1 слой</text>
<line x1="934.9" y1="513.4" x2="939.5" y2="513.4" stroke="#262626" stroke-width="1"/>
<text x="943.3" y="516.4" font-size="12.5" fill="#262626" textLength="60.5" lengthAdjust="spacingAndGlyphs">Геотекстиль</text>
<line x1="1159.7" y1="513" x2="1164.2" y2="513" stroke="#262626" stroke-width="1"/>
<text x="1167.8" y="516.4" font-size="12.5" fill="#262626" textLength="28.6" lengthAdjust="spacingAndGlyphs">1 слой</text>
<line x1="934.9" y1="539.7" x2="939.5" y2="539.7" stroke="#262626" stroke-width="1"/>
<text x="943.3" y="542.7" font-size="12.5" fill="#262626" textLength="114.2" lengthAdjust="spacingAndGlyphs">Утеплитель ПЕНОПЛЭКС,</text>
<text x="942.5" y="554.2" font-size="12.5" fill="#262626" textLength="75.9" lengthAdjust="spacingAndGlyphs">толщиной 50 мм</text>
<line x1="1158.9" y1="550.8" x2="1163.4" y2="550.8" stroke="#262626" stroke-width="1"/>
<text x="1166.6" y="554.2" font-size="12.5" fill="#262626" textLength="30.6" lengthAdjust="spacingAndGlyphs">2 слоя</text>
<line x1="934.9" y1="578" x2="939.5" y2="578" stroke="#262626" stroke-width="1"/>
<text x="943.3" y="581" font-size="12.5" fill="#262626" textLength="156.8" lengthAdjust="spacingAndGlyphs">Утеплитель ЭКОВЕР Y=100 кг/м&#179;,</text>
<text x="934" y="593.3" font-size="12.5" fill="#262626" textLength="75.4" lengthAdjust="spacingAndGlyphs">толщиной 50 мм</text>
<line x1="1158" y1="589.9" x2="1162.5" y2="589.9" stroke="#262626" stroke-width="1"/>
<text x="1166.6" y="593.3" font-size="12.5" fill="#262626" textLength="30.6" lengthAdjust="spacingAndGlyphs">2 слоя</text>
<line x1="934.9" y1="616.3" x2="939.5" y2="616.3" stroke="#262626" stroke-width="1"/>
<text x="943.3" y="619.3" font-size="12.5" fill="#262626" textLength="162.7" lengthAdjust="spacingAndGlyphs">Пароизоляция для плоских кровель</text>
<line x1="1161.4" y1="615.9" x2="1165.9" y2="615.9" stroke="#262626" stroke-width="1"/>
<text x="1169.9" y="619.3" font-size="12.5" fill="#262626" textLength="27.3" lengthAdjust="spacingAndGlyphs">1 слой</text>
<line x1="934.9" y1="640.6" x2="939.5" y2="640.6" stroke="#262626" stroke-width="1"/>
<text x="943.3" y="643.6" font-size="12.5" fill="#262626" textLength="106.5" lengthAdjust="spacingAndGlyphs">Профлист Н 114х0.8 мм</text>
<line x1="934.9" y1="666.2" x2="939.5" y2="666.2" stroke="#262626" stroke-width="1"/>
<text x="943.3" y="669.2" font-size="12.5" fill="#262626" textLength="103.2" lengthAdjust="spacingAndGlyphs">Металлическая ферма</text>
<text x="942.5" y="682.7" font-size="12.5" fill="#262626" textLength="146.1" lengthAdjust="spacingAndGlyphs">(с торца металлическая балка)</text>
</g>
</svg>
</body></html>
